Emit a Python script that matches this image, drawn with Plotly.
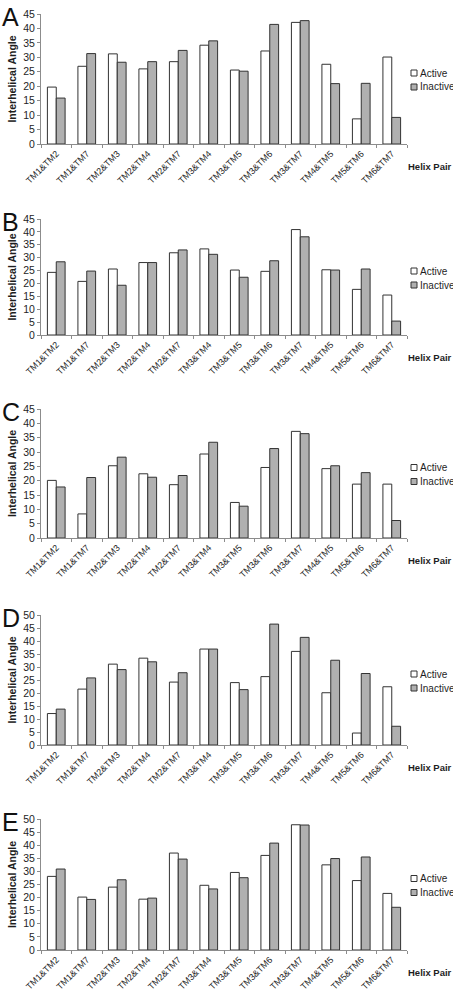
import plotly.graph_objects as go

pairs = ["TM1&TM2", "TM1&TM7", "TM2&TM3", "TM2&TM4", "TM2&TM7", "TM3&TM4",
         "TM3&TM5", "TM3&TM6", "TM3&TM7", "TM4&TM5", "TM5&TM6", "TM6&TM7"]

a_active = [19.7, 26.9, 31.2, 26.0, 28.5, 34.2, 25.6, 32.2, 42.1, 27.6, 8.7, 30.1]
a_inactive = [15.9, 31.3, 28.3, 28.5, 32.4, 35.7, 25.2, 41.4, 42.7, 20.9, 21.0, 9.2]

b_active = [24.3, 20.8, 25.6, 28.1, 31.9, 33.4, 25.2, 24.7, 40.9, 25.3, 17.7, 15.5]
b_inactive = [28.4, 24.8, 19.3, 28.1, 33.0, 31.3, 22.4, 28.8, 38.1, 25.2, 25.6, 5.4]

c_active = [20.1, 8.4, 25.2, 22.4, 18.6, 29.3, 12.4, 24.6, 37.2, 24.2, 18.8, 18.8]
c_inactive = [17.8, 21.1, 28.2, 21.2, 21.8, 33.4, 11.1, 31.2, 36.4, 25.2, 22.8, 6.1]

d_active = [12.1, 21.5, 31.1, 33.4, 24.2, 36.9, 24.0, 26.3, 36.0, 20.1, 4.6, 22.4]
d_inactive = [13.8, 25.8, 29.0, 32.0, 27.8, 36.9, 21.3, 46.5, 41.4, 32.6, 27.5, 7.2]

e_active = [28.1, 20.2, 24.0, 19.4, 37.0, 24.7, 29.6, 36.1, 47.8, 32.5, 26.5, 21.6]
e_inactive = [30.9, 19.3, 26.8, 19.8, 34.7, 23.3, 27.6, 40.8, 47.7, 34.9, 35.5, 16.3]

panels = ["A", "B", "C", "D", "E"]
y_max = [45, 45, 45, 50, 50]
series_names = ["Active", "Inactive"]
actives = [a_active, b_active, c_active, d_active, e_active]
inactives = [a_inactive, b_inactive, c_inactive, d_inactive, e_inactive]

W, H = 453, 992
# plot area pixel bounds (top, bottom) for each panel
px_bounds = [(14, 144), (219, 335), (409, 538), (615, 745), (819, 950)]
x_left, x_right = 41, 407

FONT = "Liberation Sans, Arial, sans-serif"
TXT = "#1e1e1e"
EDGE = "#333333"
FILLS = ["white", "#b0b0b0"]

fig = go.Figure()
annotations = []
shapes = []
layout = {}

for i, (p, ym, act, ina, (pt, pb)) in enumerate(zip(panels, y_max, actives, inactives, px_bounds)):
    n = "" if i == 0 else str(i + 1)
    xa, ya = "x" + n, "y" + n
    for name, vals, fill in zip(series_names, [act, ina], FILLS):
        fig.add_trace(go.Bar(x=pairs, y=vals, name=name, xaxis=xa, yaxis=ya, showlegend=False,
                             marker=dict(color=fill, line=dict(color=EDGE, width=1))))
    y0 = 1 - pb / H
    y1 = 1 - pt / H
    layout["xaxis" + n] = dict(domain=[x_left / W, x_right / W], anchor=ya, automargin=False,
                               showline=True, linecolor="#8c8c8c", linewidth=1,
                               ticks="outside", tickson="boundaries", ticklen=3,
                               tickcolor="#8c8c8c", tickangle=-45,
                               tickfont=dict(family=FONT, size=9, color=TXT),
                               showgrid=False, zeroline=False)
    layout["yaxis" + n] = dict(domain=[y0, y1], anchor=xa, range=[0, ym], dtick=5, automargin=False,
                               showline=True, linecolor="#8c8c8c", linewidth=1,
                               ticks="outside", ticklen=3, tickcolor="#8c8c8c",
                               tickfont=dict(family=FONT, size=10.5, color=TXT),
                               showgrid=False, zeroline=False,
                               title=dict(text="<b>Interhelical Angle</b>",
                                          font=dict(family=FONT, size=10.5, color=TXT),
                                          standoff=4))
    # manual legend (compact, as in the reference)
    yc = (pt + pb) / 2
    for k, (name, fill) in enumerate(zip(series_names, FILLS)):
        ly = yc - 6 + 14 * k
        shapes.append(dict(type="rect", xref="paper", yref="paper",
                           x0=411 / W, x1=417 / W, y0=1 - (ly + 3) / H, y1=1 - (ly - 3) / H,
                           fillcolor=fill, line=dict(color=EDGE, width=1)))
        annotations.append(dict(text=name, x=418 / W, y=1 - ly / H, xref="paper", yref="paper",
                                xanchor="left", yanchor="middle", showarrow=False,
                                font=dict(family=FONT, size=10, color=TXT)))
    annotations.append(dict(text="<b>Helix Pair</b>", x=406 / W, y=1 - (pb + 22) / H,
                            xref="paper", yref="paper", xanchor="left", yanchor="middle",
                            showarrow=False, font=dict(family=FONT, size=9.5, color=TXT)))
    annotations.append(dict(text=p, x=0, y=1 - (pt - 13) / H, xref="paper", yref="paper",
                            xanchor="left", yanchor="top", showarrow=False,
                            font=dict(family=FONT, size=25, color="#111")))

fig.update_layout(**layout)
fig.update_layout(width=W, height=H, margin=dict(l=0, r=0, t=0, b=0, autoexpand=False),
                  plot_bgcolor="white", paper_bgcolor="white",
                  barmode="group", bargap=0.42, bargroupgap=0,
                  annotations=annotations, shapes=shapes, showlegend=False)

fig.write_html("out.html", config={"displayModeBar": False},
               post_script="document.body.style.margin='0';document.body.style.padding='0';"
                           "document.body.style.overflow='hidden';"
                           "document.documentElement.style.overflow='hidden';")
